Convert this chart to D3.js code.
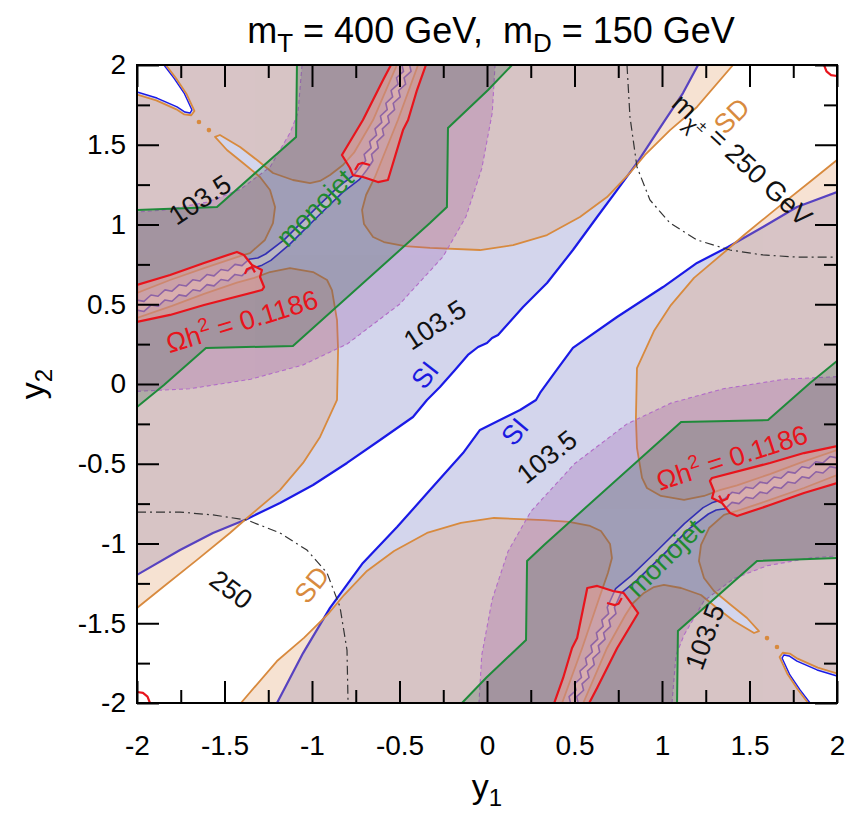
<!DOCTYPE html>
<html>
<head>
<meta charset="utf-8">
<script src="https://cdn.jsdelivr.net/npm/d3@7"></script>
<style>
  body { margin: 0; background: #fff; }
  text { white-space: pre; }
</style>
</head>
<body>
<svg id="chart" width="857" height="819"></svg>
<script>
// ---------- axes ----------
const majorTicks = [-2, -1.5, -1, -0.5, 0, 0.5, 1, 1.5, 2];
const minorTicks = [-1.75, -1.25, -0.75, -0.25, 0.25, 0.75, 1.25, 1.75];

// ---------- SI (spin-independent) contours: allowed band along the diagonal ----------
const siUpper = [[-2,-1.197],[-1.754,-1.041],[-1.566,-0.934],[-1.371,-0.846],[-1.183,-0.746],[-0.994,-0.633],[-0.800,-0.495],[-0.611,-0.351],[-0.423,-0.207],[-0.343,-0.100],[-0.269,-0.019],[-0.183,0.088],[-0.109,0.182],[-0.051,0.232],[0.000,0.257],[0.029,0.288],[0.063,0.307],[0.206,0.483],[0.343,0.633],[0.491,0.840],[0.629,1.047],[0.743,1.216],[0.857,1.386],[1.006,1.636],[1.120,1.824],[1.206,2]];
const siLower = [[-1.20,-2],[-1.051,-1.687],[-0.897,-1.404],[-0.709,-1.122],[-0.514,-0.897],[-0.326,-0.665],[-0.137,-0.433],[-0.040,-0.288],[0.074,-0.226],[0.189,-0.163],[0.280,-0.100],[0.303,-0.056],[0.389,0.075],[0.491,0.226],[0.743,0.420],[1.006,0.608],[1.200,0.759],[1.377,0.859],[1.577,0.984],[1.771,1.110],[2,1.204]];

// thin SI-allowed strip following the relic-density arc (two edges each)
const chanA_TL = [[-2.00,0.526],[-1.96,0.518],[-1.92,0.558],[-1.88,0.550],[-1.84,0.590],[-1.80,0.582],[-1.76,0.622],[-1.72,0.614],[-1.68,0.654],[-1.64,0.646],[-1.60,0.686],[-1.56,0.678],[-1.52,0.718],[-1.48,0.710],[-1.44,0.750],[-1.40,0.742],[-1.36,0.782],[-1.31,0.790],[-1.265,0.815],[-1.158,0.905],[-0.986,1.093],[-0.855,1.231],[-0.758,1.313],[-0.715,1.375],[-0.693,1.40],[-0.702,1.44],[-0.662,1.48],[-0.671,1.52],[-0.631,1.56],[-0.640,1.60],[-0.601,1.64],[-0.609,1.68],[-0.570,1.72],[-0.578,1.76],[-0.539,1.80],[-0.548,1.84],[-0.508,1.88],[-0.517,1.92],[-0.477,1.96],[-0.486,2.00]];
const chanB_TL = [[-2.00,0.463],[-1.96,0.455],[-1.92,0.495],[-1.88,0.487],[-1.84,0.527],[-1.80,0.519],[-1.76,0.559],[-1.72,0.551],[-1.68,0.591],[-1.64,0.583],[-1.60,0.623],[-1.56,0.615],[-1.52,0.655],[-1.48,0.647],[-1.44,0.687],[-1.40,0.679],[-1.36,0.719],[-1.285,0.745],[-1.235,0.775],[-1.128,0.875],[-0.956,1.063],[-0.825,1.201],[-0.728,1.283],[-0.685,1.345],[-0.652,1.40],[-0.660,1.44],[-0.621,1.48],[-0.629,1.52],[-0.590,1.56],[-0.598,1.60],[-0.559,1.64],[-0.567,1.68],[-0.528,1.72],[-0.536,1.76],[-0.496,1.80],[-0.505,1.84],[-0.465,1.88],[-0.474,1.92],[-0.434,1.96],[-0.442,2.00]];
const chanA_BR = [[2.00,-0.526],[1.96,-0.518],[1.92,-0.558],[1.88,-0.550],[1.84,-0.590],[1.80,-0.582],[1.76,-0.622],[1.72,-0.614],[1.68,-0.654],[1.64,-0.646],[1.60,-0.686],[1.56,-0.678],[1.52,-0.718],[1.48,-0.710],[1.44,-0.750],[1.40,-0.742],[1.36,-0.782],[1.31,-0.790],[1.265,-0.815],[1.158,-0.905],[0.986,-1.093],[0.855,-1.231],[0.765,-1.313],[0.740,-1.375],[0.728,-1.40],[0.737,-1.44],[0.697,-1.48],[0.706,-1.52],[0.666,-1.56],[0.675,-1.60],[0.636,-1.64],[0.644,-1.68],[0.605,-1.72],[0.613,-1.76],[0.574,-1.80],[0.583,-1.84],[0.543,-1.88],[0.552,-1.92],[0.512,-1.96],[0.521,-2.00]];
const chanB_BR = [[2.00,-0.463],[1.96,-0.455],[1.92,-0.495],[1.88,-0.487],[1.84,-0.527],[1.80,-0.519],[1.76,-0.559],[1.72,-0.551],[1.68,-0.591],[1.64,-0.583],[1.60,-0.623],[1.56,-0.615],[1.52,-0.655],[1.48,-0.647],[1.44,-0.687],[1.40,-0.679],[1.36,-0.719],[1.285,-0.745],[1.235,-0.775],[1.128,-0.875],[0.956,-1.063],[0.825,-1.201],[0.735,-1.283],[0.710,-1.345],[0.687,-1.40],[0.695,-1.44],[0.656,-1.48],[0.664,-1.52],[0.625,-1.56],[0.633,-1.60],[0.594,-1.64],[0.602,-1.68],[0.563,-1.72],[0.571,-1.76],[0.531,-1.80],[0.540,-1.84],[0.500,-1.88],[0.509,-1.92],[0.469,-1.96],[0.477,-2.00]];

// SI-allowed wedges in the far corners
const wedgeSI_TL = [[-2,2],[-1.846,2],[-1.789,1.918],[-1.731,1.824],[-1.686,1.718],[-1.697,1.699],[-1.726,1.705],[-1.771,1.737],[-1.886,1.793],[-2,1.831]];
const wedgeSI_BR = [[2,-2],[1.846,-2],[1.789,-1.918],[1.731,-1.824],[1.686,-1.718],[1.697,-1.699],[1.726,-1.705],[1.771,-1.737],[1.886,-1.793],[2,-1.831]];

// ---------- SD (spin-dependent) contours ----------
const sdWedge_TL = [[-2,1.815],[-1.89,1.778],[-1.775,1.722],[-1.73,1.69],[-1.69,1.685],[-1.672,1.712],[-1.718,1.82],[-1.776,1.915],[-1.835,2]];
const sdArc_TL = [[-0.515,2],[-0.651,1.655],[-0.76,1.45],[-0.823,1.373],[-0.897,1.310],[-0.954,1.273],[-1.011,1.260],[-1.109,1.279],[-1.223,1.323],[-1.314,1.404],[-1.411,1.486],[-1.526,1.561],[-1.554,1.549],[-1.486,1.467],[-1.394,1.386],[-1.297,1.298],[-1.240,1.216],[-1.211,1.110],[-1.223,1.009],[-1.269,0.903],[-1.354,0.821],[-1.429,0.796],[-1.617,0.727],[-1.811,0.652],[-2,0.571]];
const sdLeft = [[-2,0.414],[-1.8,0.49],[-1.617,0.565],[-1.429,0.635],[-1.33,0.665],[-1.24,0.702],[-1.126,0.727],[-0.994,0.702],[-0.914,0.652],[-0.886,0.589],[-0.857,0.401],[-0.851,0.213],[-0.857,-0.100],[-0.954,-0.332],[-1.051,-0.495],[-1.183,-0.665],[-1.371,-0.840],[-1.469,-0.934],[-1.657,-1.103],[-1.851,-1.273],[-2,-1.404]];
const sdTop = [[-0.394,2],[-0.509,1.655],[-0.640,1.298],[-0.691,1.185],[-0.714,1.091],[-0.703,1.003],[-0.651,0.922],[-0.589,0.890],[-0.469,0.865],[-0.326,0.853],[-0.040,0.840],[0.149,0.871],[0.343,0.934],[0.531,1.047],[0.686,1.172],[0.817,1.323],[0.903,1.436],[1.046,1.592],[1.200,1.737],[1.406,2]];
const sdWedge_BR = [[2,-1.815],[1.89,-1.778],[1.775,-1.722],[1.73,-1.69],[1.69,-1.685],[1.672,-1.712],[1.718,-1.82],[1.776,-1.915],[1.835,-2]];
const sdArc_BR = [[0.550,-2],[0.686,-1.655],[0.790,-1.45],[0.835,-1.373],[0.897,-1.310],[0.954,-1.273],[1.011,-1.260],[1.109,-1.279],[1.223,-1.323],[1.314,-1.404],[1.411,-1.486],[1.526,-1.561],[1.554,-1.549],[1.486,-1.467],[1.394,-1.386],[1.297,-1.298],[1.240,-1.216],[1.211,-1.110],[1.223,-1.009],[1.269,-0.903],[1.354,-0.821],[1.429,-0.796],[1.617,-0.727],[1.811,-0.652],[2,-0.571]];
const sdRight = [[2,-0.414],[1.8,-0.49],[1.617,-0.565],[1.429,-0.635],[1.33,-0.665],[1.24,-0.702],[1.126,-0.727],[0.994,-0.702],[0.914,-0.652],[0.886,-0.589],[0.857,-0.401],[0.851,-0.213],[0.857,0.100],[0.954,0.332],[1.051,0.495],[1.183,0.665],[1.371,0.840],[1.469,0.934],[1.657,1.103],[1.851,1.273],[2,1.404]];
const sdBottom = [[0.429,-2],[0.544,-1.655],[0.655,-1.298],[0.691,-1.185],[0.714,-1.091],[0.703,-1.003],[0.651,-0.922],[0.589,-0.890],[0.469,-0.865],[0.326,-0.853],[0.040,-0.840],[-0.149,-0.871],[-0.343,-0.934],[-0.531,-1.047],[-0.686,-1.172],[-0.817,-1.323],[-0.903,-1.436],[-1.046,-1.592],[-1.200,-1.737],[-1.406,-2]];
const sdDots = [[-1.646,1.643],[-1.589,1.592],[1.600,-1.593],[1.657,-1.649]];

// ---------- chargino mass contours ----------
const lepOuter_TL = [[-1.057,2],[-1.08,1.70],[-1.126,1.574],[-1.24,1.36],[-1.41,1.22],[-1.60,1.14],[-1.85,1.09],[-2,1.078]];
const lepInner_TL = [[-2,-0.046],[-1.70,-0.03],[-1.35,0.03],[-1.05,0.12],[-0.80,0.25],[-0.62,0.40],[-0.50,0.50],[-0.40,0.62],[-0.25,0.80],[-0.12,1.05],[-0.03,1.35],[0.03,1.70],[0.046,2]];
const lepOuter_BR = [[1.057,-2],[1.08,-1.70],[1.126,-1.574],[1.24,-1.36],[1.41,-1.22],[1.60,-1.14],[1.85,-1.09],[2,-1.078]];
const lepInner_BR = [[2,0.046],[1.70,0.03],[1.35,-0.03],[1.05,-0.12],[0.80,-0.25],[0.62,-0.40],[0.50,-0.50],[0.40,-0.62],[0.25,-0.80],[0.12,-1.05],[0.03,-1.35],[-0.03,-1.70],[-0.046,-2]];
const m250_TR = [[0.8,2],[0.817,1.674],[0.857,1.361],[0.931,1.154],[1.046,1.009],[1.2,0.903],[1.389,0.840],[1.577,0.809],[1.771,0.796],[2,0.796]];
const m250_BL = [[-2,-0.803],[-1.754,-0.803],[-1.566,-0.821],[-1.371,-0.853],[-1.183,-0.934],[-1.029,-1.041],[-0.914,-1.185],[-0.840,-1.398],[-0.8,-1.668],[-0.794,-2]];

// ---------- monojet exclusion ----------
const monoOuter_TL = [[-1.086,2],[-1.091,1.549],[-1.543,1.110],[-2,1.091]];
const monoInner_TL = [[-2,-0.144],[-1.846,-0.006],[-1.606,0.226],[-1.109,0.238],[-0.326,1.009],[-0.229,1.110],[-0.223,1.605],[0.006,1.843],[0.143,2]];
const monoOuter_BR = [[1.086,-2],[1.091,-1.549],[1.543,-1.110],[2,-1.091]];
const monoInner_BR = [[2,0.144],[1.846,0.006],[1.606,-0.226],[1.109,-0.238],[0.326,-1.009],[0.229,-1.110],[0.223,-1.605],[-0.006,-1.843],[-0.143,-2]];

// ---------- relic density bands (Omega h^2 = 0.1186) ----------
const bandLeft = [[-2,0.621],[-1.811,0.683],[-1.617,0.759],[-1.429,0.828],[-1.389,0.809],[-1.343,0.746],[-1.286,0.715],[-1.297,0.671],[-1.274,0.608],[-1.286,0.589],[-1.617,0.495],[-1.811,0.433],[-2,0.389]];
const bandTop = [[-0.549,2],[-0.594,1.906],[-0.709,1.655],[-0.829,1.436],[-0.783,1.354],[-0.766,1.310],[-0.709,1.298],[-0.623,1.266],[-0.566,1.279],[-0.554,1.323],[-0.480,1.592],[-0.451,1.655],[-0.400,1.843],[-0.349,2]];
const bandRight = [[2,-0.621],[1.811,-0.683],[1.617,-0.759],[1.429,-0.828],[1.389,-0.809],[1.343,-0.746],[1.286,-0.715],[1.297,-0.671],[1.274,-0.608],[1.286,-0.589],[1.617,-0.495],[1.811,-0.433],[2,-0.389]];
const bandBottom = [[0.584,-2],[0.629,-1.906],[0.744,-1.655],[0.864,-1.436],[0.810,-1.354],[0.780,-1.310],[0.720,-1.298],[0.630,-1.266],[0.573,-1.279],[0.565,-1.323],[0.515,-1.592],[0.486,-1.655],[0.435,-1.843],[0.384,-2]];
const relicHooks = [
  [[-1.383,0.690],[-1.372,0.720],[-1.343,0.734],[-1.326,0.700]],
  [[-0.754,1.342],[-0.735,1.378],[-0.714,1.386],[-0.669,1.373]],
  [[1.383,-0.690],[1.372,-0.720],[1.343,-0.734],[1.326,-0.700]],
  [[0.770,-1.342],[0.752,-1.378],[0.731,-1.386],[0.686,-1.373]]
];
const relicCorners = [
  [[-2,-1.931],[-1.966,-1.937],[-1.94,-1.96],[-1.926,-2]],
  [[1.926,2],[1.94,1.96],[1.966,1.937],[2,1.931]]
];

// ---------- annotations (data coordinates, rotation in degrees) ----------
const annotations = [
  {parts:[{t:"103.5"}], at:[-1.64,1.154], rot:-33, color:"#111"},
  {parts:[{t:"103.5"}], at:[-0.297,0.37], rot:-33, color:"#111"},
  {parts:[{t:"103.5"}], at:[0.343,-0.458], rot:-38, color:"#111"},
  {parts:[{t:"103.5"}], at:[1.246,-1.586], rot:-70, color:"#111"},
  {parts:[{t:"monojet"}], at:[-0.983,1.103], rot:-45, color:"#1f8a2e"},
  {parts:[{t:"monojet"}], at:[1.017,-1.091], rot:-45, color:"#1f8a2e"},
  {parts:[{t:"\u03A9h"},{t:"2",sup:true},{t:" = 0.1186"}], at:[-1.40,0.39], rot:-17, color:"#e8141c"},
  {parts:[{t:"\u03A9h"},{t:"2",sup:true},{t:" = 0.1186"}], at:[1.40,-0.464], rot:-18, color:"#e8141c"},
  {parts:[{t:"SI"}], at:[-0.354,0.056], rot:-52, color:"#1a1ae0"},
  {parts:[{t:"SI"}], at:[0.16,-0.30], rot:-50, color:"#1a1ae0"},
  {parts:[{t:"SD"}], at:[1.40,1.68], rot:-45, color:"#d88a3e"},
  {parts:[{t:"SD"}], at:[-1.0,-1.26], rot:-52, color:"#d88a3e"},
  {parts:[{t:"250"}], at:[-1.463,-1.29], rot:37, color:"#111"},
  {parts:[{t:"m"},{t:"\u03C7",sub:true},{t:"\u00B1",subsup:true},{t:" = 250 GeV",back:true}], at:[1.457,1.404], rot:43, color:"#111"}
];

// ---------- drawing ----------
const FONT = '"Liberation Sans", Arial, Helvetica, sans-serif';
const col = {
  siExcl: "#d3d5ec", si: "#1a1ae6", sdFill: "rgb(227,160,108)", sd: "#d88a3e",
  lepFill: "rgb(150,80,165)", lep: "#b26cc8", monoFill: "rgb(30,80,50)", mono: "#1f8a3a",
  relicFill: "rgb(255,165,150)", relic: "#e8141c", m250: "#333"
};

const svg = d3.select("#chart");
const x = d3.scaleLinear().domain([-2, 2]).range([137, 837]);
const y = d3.scaleLinear().domain([-2, 2]).range([703, 65]);
const line = d3.line().x(d => x(d[0])).y(d => y(d[1]));
const closed = pts => line(pts) + "Z";

svg.append("defs").append("clipPath").attr("id", "plotArea")
  .append("rect").attr("x", x(-2)).attr("y", y(2))
  .attr("width", x(2) - x(-2)).attr("height", y(-2) - y(2));

const plot = svg.append("g").attr("clip-path", "url(#plotArea)");

// SI-excluded background, with the allowed regions cut out in white
plot.append("rect").attr("x", x(-2)).attr("y", y(2))
  .attr("width", x(2) - x(-2)).attr("height", y(-2) - y(2)).attr("fill", col.siExcl);
const siBand = siUpper.concat([[2, 2]], siLower.slice().reverse(), [[-2, -2]]);
const chanTL = chanA_TL.concat(chanB_TL.slice().reverse());
const chanBR = chanA_BR.concat(chanB_BR.slice().reverse());
const white = plot.append("g").attr("fill", "#fff");
[siBand, chanTL, chanBR, wedgeSI_TL, wedgeSI_BR].forEach(p => white.append("path").attr("d", closed(p)));

// SI contour lines
const siG = plot.append("g").attr("fill", "none").attr("stroke", col.si).attr("stroke-linejoin", "round");
[siUpper, siLower].forEach(p => siG.append("path").attr("d", line(p)).attr("stroke-width", 2.2));
[chanA_TL, chanB_TL, chanA_BR, chanB_BR].forEach(p => siG.append("path").attr("d", line(p)).attr("stroke-width", 1.6));
[wedgeSI_TL, wedgeSI_BR].forEach(p => siG.append("path").attr("d", line(p.slice(1))).attr("stroke-width", 1.4));

// SD-excluded fill
const sdG = plot.append("g").attr("fill", col.sdFill).attr("opacity", 0.3);
[sdLeft, sdTop, sdRight, sdBottom, sdWedge_TL.concat(sdArc_TL), sdWedge_BR.concat(sdArc_BR)]
  .forEach(p => sdG.append("path").attr("d", closed(p)));
const sdL = plot.append("g").attr("fill", "none").attr("stroke", col.sd).attr("stroke-width", 1.8).attr("stroke-linejoin", "round");
[sdLeft, sdTop, sdRight, sdBottom, sdWedge_TL, sdArc_TL, sdWedge_BR, sdArc_BR].forEach(p => sdL.append("path").attr("d", line(p)));
plot.append("g").attr("fill", col.sd).selectAll("circle").data(sdDots).join("circle")
  .attr("cx", d => x(d[0])).attr("cy", d => y(d[1])).attr("r", 2.3);

// chargino-mass (103.5 GeV) region
const lepG = plot.append("g").attr("fill", col.lepFill).attr("opacity", 0.25);
[lepOuter_TL.concat(lepInner_TL), lepOuter_BR.concat(lepInner_BR)].forEach(p => lepG.append("path").attr("d", closed(p)));
const lepL = plot.append("g").attr("fill", "none").attr("stroke", col.lep).attr("stroke-width", 1.1).attr("stroke-dasharray", "4,3");
[lepOuter_TL, lepInner_TL, lepOuter_BR, lepInner_BR].forEach(p => lepL.append("path").attr("d", line(p)));

// monojet exclusion
const monoG = plot.append("g").attr("fill", col.monoFill).attr("opacity", 0.21);
[monoOuter_TL.concat(monoInner_TL), monoOuter_BR.concat(monoInner_BR)].forEach(p => monoG.append("path").attr("d", closed(p)));
const monoL = plot.append("g").attr("fill", "none").attr("stroke", col.mono).attr("stroke-width", 2);
[monoOuter_TL, monoInner_TL, monoOuter_BR, monoInner_BR].forEach(p => monoL.append("path").attr("d", line(p)));

// relic density bands
const relicG = plot.append("g").attr("fill", col.relicFill).attr("opacity", 0.45);
[bandLeft, bandTop, bandRight, bandBottom].forEach(p => relicG.append("path").attr("d", closed(p)));
const relicL = plot.append("g").attr("fill", "none").attr("stroke", col.relic).attr("stroke-width", 2.2).attr("stroke-linejoin", "round");
[bandLeft, bandTop, bandRight, bandBottom].forEach(p => relicL.append("path").attr("d", closed(p)));
relicHooks.concat(relicCorners).forEach(p => relicL.append("path").attr("d", line(p)));

// 250 GeV chargino mass contour
const mL = plot.append("g").attr("fill", "none").attr("stroke", col.m250).attr("stroke-width", 1.2).attr("stroke-dasharray", "9,4,2,4");
[m250_TR, m250_BL].forEach(p => mL.append("path").attr("d", line(p)));

// annotations
const annG = svg.append("g").attr("font-family", FONT).attr("font-size", 27);
annotations.forEach(a => {
  const t = annG.append("text")
    .attr("transform", `translate(${x(a.at[0])},${y(a.at[1])}) rotate(${a.rot})`)
    .attr("text-anchor", "middle").attr("y", 9).attr("fill", a.color);
  a.parts.forEach(p => {
    const s = t.append("tspan").text(p.t);
    if (p.sup) s.attr("dy", -11).attr("font-size", 19);
    else if (p.sub) s.attr("dy", 7).attr("font-size", 21);
    else if (p.subsup) s.attr("dy", -9).attr("font-size", 15);
    else if (p.back) s.attr("dy", 2);
    else if (t.selectAll("tspan").size() > 1) s.attr("dy", 11);
  });
});

// frame and ticks
function styleAxis(g) {
  g.select(".domain").remove();
  g.attr("font-size", 28).attr("font-family", FONT);
  g.selectAll(".tick line").attr("stroke", "#000").attr("stroke-width", 2);
  g.selectAll(".tick text").attr("fill", "#000");
}
const fmt = d => String(d);
svg.append("g").attr("transform", "translate(0,703)")
  .call(d3.axisBottom(x).tickValues(majorTicks).tickSize(-22).tickPadding(32).tickFormat(fmt)).call(styleAxis);
svg.append("g").attr("transform", "translate(0,703)")
  .call(d3.axisBottom(x).tickValues(minorTicks).tickSize(-13).tickFormat("")).call(styleAxis);
svg.append("g").attr("transform", "translate(137,0)")
  .call(d3.axisLeft(y).tickValues(majorTicks).tickSize(-22).tickPadding(11).tickFormat(fmt)).call(styleAxis);
svg.append("g").attr("transform", "translate(137,0)")
  .call(d3.axisLeft(y).tickValues(minorTicks).tickSize(-13).tickFormat("")).call(styleAxis);
svg.append("g").attr("transform", "translate(0,65)")
  .call(d3.axisTop(x).tickValues(majorTicks).tickSize(-22).tickFormat("")).call(styleAxis);
svg.append("g").attr("transform", "translate(0,65)")
  .call(d3.axisTop(x).tickValues(minorTicks).tickSize(-13).tickFormat("")).call(styleAxis);
svg.append("g").attr("transform", "translate(837,0)")
  .call(d3.axisRight(y).tickValues(majorTicks).tickSize(-22).tickFormat("")).call(styleAxis);
svg.append("g").attr("transform", "translate(837,0)")
  .call(d3.axisRight(y).tickValues(minorTicks).tickSize(-13).tickFormat("")).call(styleAxis);
svg.append("rect").attr("x", x(-2)).attr("y", y(2)).attr("width", x(2) - x(-2)).attr("height", y(-2) - y(2))
  .attr("fill", "none").attr("stroke", "#000").attr("stroke-width", 2);

// title and axis titles
const title = svg.append("text").attr("x", 491).attr("y", 43).attr("text-anchor", "middle")
  .attr("font-family", FONT).attr("font-size", 36).attr("fill", "#000");
title.append("tspan").text("m");
title.append("tspan").text("T").attr("font-size", 26).attr("dy", 9);
title.append("tspan").text(" = 400 GeV,  m").attr("dy", -9);
title.append("tspan").text("D").attr("font-size", 26).attr("dy", 9);
title.append("tspan").text(" = 150 GeV").attr("dy", -9);

const xl = svg.append("text").attr("x", 487).attr("y", 798).attr("text-anchor", "middle")
  .attr("font-family", FONT).attr("font-size", 34).attr("fill", "#000");
xl.append("tspan").text("y");
xl.append("tspan").text("1").attr("font-size", 24).attr("dy", 8);

const yl = svg.append("text").attr("transform", "translate(44,384) rotate(-90)").attr("text-anchor", "middle")
  .attr("font-family", FONT).attr("font-size", 34).attr("fill", "#000");
yl.append("tspan").text("y");
yl.append("tspan").text("2").attr("font-size", 24).attr("dy", 8);
</script>
</body>
</html>
